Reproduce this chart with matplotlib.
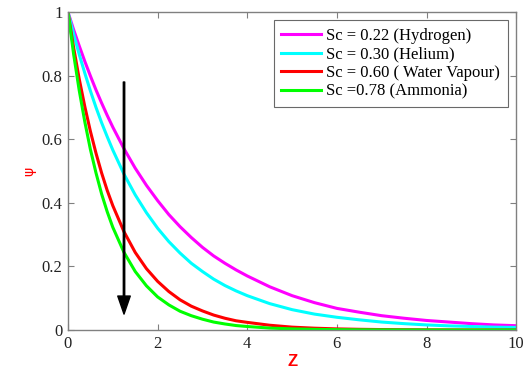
#### Concentration profiles for different Schmidt numbers ####

# Import Libraries
import matplotlib
matplotlib.use("Agg")
import matplotlib.pyplot as plt

# Set fonts for the chart
serif = {'family': 'Liberation Serif'}

# Data
z = [0, 0.125, 0.25, 0.375, 0.5, 0.625, 0.75, 0.875, 1, 1.25, 1.5, 1.75, 2, 2.25,
     2.5, 2.75, 3, 3.25, 3.5, 3.75, 4, 4.5, 5, 5.5, 6, 6.5, 7, 7.5, 8, 8.5, 9, 9.5, 10]
psi_hydrogen = [1, 0.945, 0.894, 0.845, 0.799, 0.755, 0.714, 0.675, 0.638, 0.570,
                0.509, 0.455, 0.407, 0.363, 0.325, 0.291, 0.260, 0.233, 0.210, 0.189,
                0.170, 0.136, 0.108, 0.086, 0.068, 0.056, 0.045, 0.037, 0.030, 0.025,
                0.020, 0.016, 0.0135]
psi_helium = [1, 0.931, 0.867, 0.808, 0.752, 0.700, 0.652, 0.608, 0.566, 0.490,
              0.425, 0.369, 0.320, 0.278, 0.242, 0.210, 0.184, 0.160, 0.140, 0.123,
              0.108, 0.083, 0.064, 0.050, 0.040, 0.032, 0.025, 0.020, 0.016, 0.013,
              0.011, 0.009, 0.008]
psi_water = [1, 0.889, 0.790, 0.703, 0.625, 0.556, 0.494, 0.439, 0.391, 0.309,
             0.244, 0.193, 0.153, 0.121, 0.095, 0.075, 0.060, 0.047, 0.037, 0.029,
             0.024, 0.015, 0.009, 0.0057, 0.0035, 0.0022, 0.0014, 0.0009, 0.0005,
             0.0003, 0.0002, 0.0001, 0.0001]
psi_ammonia = [1, 0.868, 0.754, 0.655, 0.568, 0.494, 0.428, 0.372, 0.323, 0.244,
               0.184, 0.139, 0.104, 0.079, 0.059, 0.045, 0.034, 0.025, 0.019, 0.014,
               0.011, 0.006, 0.0035, 0.002, 0.0011, 0.0006, 0.0004, 0.0002, 0.0001,
               0, 0, 0, 0]

series = [psi_hydrogen, psi_helium, psi_water, psi_ammonia]
labels = ["Sc = 0.22 (Hydrogen)", "Sc = 0.30 (Helium)",
          "Sc = 0.60 ( Water Vapour)", "Sc =0.78 (Ammonia)"]
colors = ["#ff00ff", "#00ffff", "#ff0000", "#00ff00"]

x_ticks = [0, 2, 4, 6, 8, 10]
y_ticks = [0, 0.2, 0.4, 0.6, 0.8, 1]
y_tick_labels = ["0", "0.2", "0.4", "0.6", "0.8", "1"]

# Arrow showing increasing Sc (z position, psi from, psi to)
arrow_z = 1.25
arrow_from = 0.78
arrow_to = 0.05

fig = plt.figure(figsize=(5.23, 3.71), dpi=100)
ax = fig.add_axes([0.130, 0.1105, 0.857, 0.857])

for values, label, color in zip(series, labels, colors):
    ax.plot(z, values, color=color, linewidth=2.2, label=label,
            solid_joinstyle="round")

ax.annotate("", xy=(arrow_z, arrow_to), xytext=(arrow_z, arrow_from),
            arrowprops=dict(facecolor="black", edgecolor="black", width=1.0,
                            headwidth=9, headlength=13))

ax.set_xlim(0, 10)
ax.set_ylim(0, 1)
ax.set_xticks(x_ticks)
ax.set_xticklabels([str(t) for t in x_ticks], fontsize=12, **serif)
ax.set_yticks(y_ticks)
ax.set_yticklabels(y_tick_labels, fontsize=12, **serif)
ax.tick_params(direction="in", length=4, top=True, right=True, color="#808080",
               labelcolor="#222222", pad=4)
for spine in ax.spines.values():
    spine.set_color("#808080")
    spine.set_linewidth(1.0)

ax.set_xlabel("Z", color="red", fontsize=12, fontweight="bold",
              family="Liberation Sans", labelpad=2)
ax.set_ylabel("\u03c8", color="red", fontsize=10, labelpad=4)

leg = ax.legend(loc="upper right", prop={'family': 'Liberation Serif', 'size': 12},
                frameon=True, fancybox=False, handlelength=2.4, handletextpad=0.3,
                labelspacing=0.15, borderpad=0.45, borderaxespad=0.5)
leg.get_frame().set_edgecolor("#444444")
leg.get_frame().set_linewidth(0.8)

plt.savefig("out.png", dpi=100)
